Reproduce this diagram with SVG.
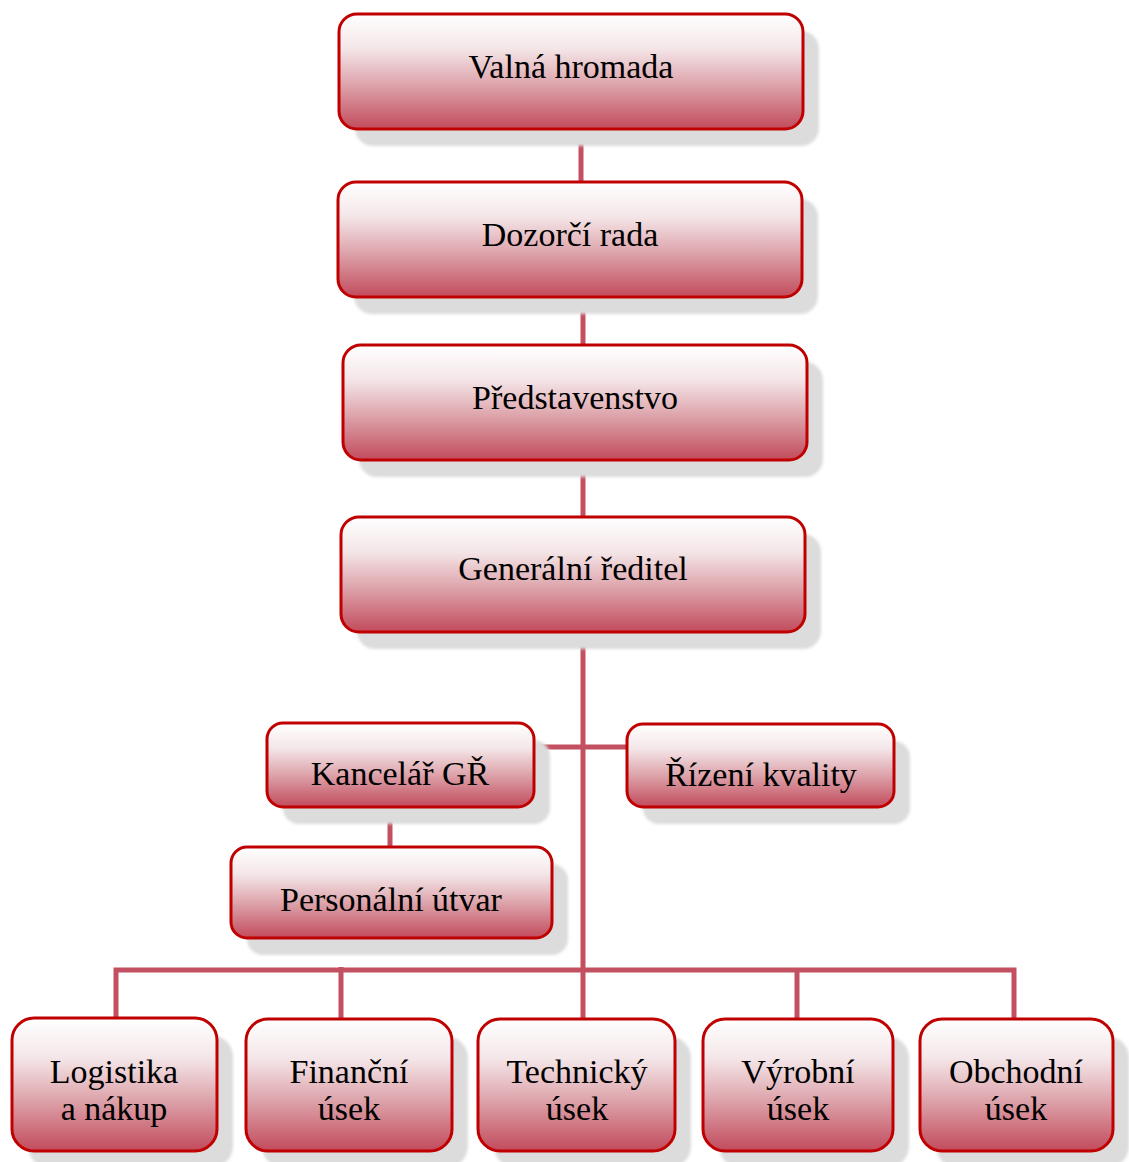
<svg xmlns="http://www.w3.org/2000/svg" width="1129" height="1162" viewBox="0 0 1129 1162">
<defs>
<linearGradient id="g" x1="0" y1="0" x2="0" y2="1">
<stop offset="0" stop-color="#ffffff"/>
<stop offset="0.3" stop-color="#f4e6e8"/>
<stop offset="0.6" stop-color="#dea7ae"/>
<stop offset="1" stop-color="#c24b5c"/>
</linearGradient>
<filter id="blur" x="-10%" y="-10%" width="120%" height="120%"><feGaussianBlur stdDeviation="1.5"/></filter>
</defs>
<style>
.sh{fill:#dcdcdc;filter:url(#blur)}
.bx{fill:url(#g);stroke:#c00000;stroke-width:3}
.t{font-family:"Liberation Serif","DejaVu Serif",serif;font-size:34px;fill:#000;text-anchor:middle}
.c{stroke:#c25061;stroke-width:5;fill:none}
</style>
<rect width="1129" height="1162" fill="#fff"/>
<g id="connectors">
<line class="c" x1="581" y1="129" x2="581" y2="182"/>
<line class="c" x1="583" y1="297" x2="583" y2="345"/>
<line class="c" x1="583" y1="460" x2="583" y2="517"/>
<line class="c" x1="583" y1="632" x2="583" y2="970"/>
<line class="c" x1="534" y1="747" x2="627" y2="747"/>
<line class="c" x1="390" y1="807" x2="390" y2="847"/>
<path class="c" d="M116 1018 V970 H1014 V1018"/>
<line class="c" x1="341" y1="967" x2="341" y2="1019"/>
<line class="c" x1="583" y1="970" x2="583" y2="1019"/>
<line class="c" x1="797" y1="970" x2="797" y2="1019"/>
</g>
<g id="n1"><rect class="sh" x="355" y="31" width="464" height="115" rx="18"/><rect class="bx" x="339" y="14" width="464" height="115" rx="18"/><text class="t" x="571" y="78">Valná hromada</text></g>
<g id="n2"><rect class="sh" x="354" y="199" width="464" height="115" rx="18"/><rect class="bx" x="338" y="182" width="464" height="115" rx="18"/><text class="t" x="570" y="246">Dozorčí rada</text></g>
<g id="n3"><rect class="sh" x="359" y="362" width="464" height="115" rx="18"/><rect class="bx" x="343" y="345" width="464" height="115" rx="18"/><text class="t" x="575" y="409">Představenstvo</text></g>
<g id="n4"><rect class="sh" x="357" y="534" width="464" height="115" rx="18"/><rect class="bx" x="341" y="517" width="464" height="115" rx="18"/><text class="t" x="573" y="580">Generální ředitel</text></g>
<g id="n5"><rect class="sh" x="283" y="740" width="267" height="84" rx="16"/><rect class="bx" x="267" y="723" width="267" height="84" rx="16"/><text class="t" x="400" y="785">Kancelář GŘ</text></g>
<g id="n6"><rect class="sh" x="643" y="741" width="267" height="83" rx="16"/><rect class="bx" x="627" y="724" width="267" height="83" rx="16"/><text class="t" x="761" y="786">Řízení kvality</text></g>
<g id="n7"><rect class="sh" x="247" y="864" width="321" height="91" rx="16"/><rect class="bx" x="231" y="847" width="321" height="91" rx="16"/><text class="t" x="391" y="911">Personální útvar</text></g>
<g id="n8"><rect class="sh" x="28" y="1035" width="205" height="133" rx="22"/><rect class="bx" x="12" y="1018" width="205" height="133" rx="22"/><text class="t" x="114" y="1083">Logistika</text><text class="t" x="114" y="1120">a nákup</text></g>
<g id="n9"><rect class="sh" x="262" y="1036" width="206" height="132" rx="22"/><rect class="bx" x="246" y="1019" width="206" height="132" rx="22"/><text class="t" x="349" y="1083">Finanční</text><text class="t" x="349" y="1120">úsek</text></g>
<g id="n10"><rect class="sh" x="494" y="1036" width="197" height="132" rx="22"/><rect class="bx" x="478" y="1019" width="197" height="132" rx="22"/><text class="t" x="577" y="1083">Technický</text><text class="t" x="577" y="1120">úsek</text></g>
<g id="n11"><rect class="sh" x="719" y="1036" width="190" height="132" rx="22"/><rect class="bx" x="703" y="1019" width="190" height="132" rx="22"/><text class="t" x="798" y="1083">Výrobní</text><text class="t" x="798" y="1120">úsek</text></g>
<g id="n12"><rect class="sh" x="936" y="1036" width="193" height="132" rx="22"/><rect class="bx" x="920" y="1019" width="193" height="132" rx="22"/><text class="t" x="1016" y="1083">Obchodní</text><text class="t" x="1016" y="1120">úsek</text></g>
</svg>
